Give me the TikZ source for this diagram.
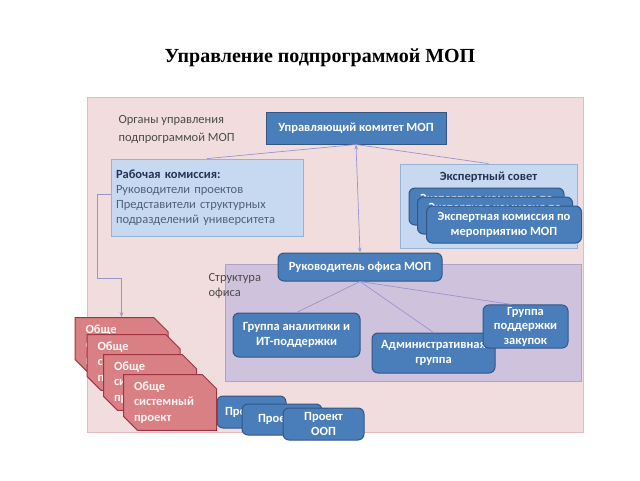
\documentclass[tikz,border=0pt]{standalone}
\usepackage{fontspec}
\setmainfont{Carlito}
\newfontfamily\titlefont{Liberation Serif}
\usetikzlibrary{arrows.meta,shapes.misc}
\definecolor{pinkbg}{RGB}{242,221,222}
\definecolor{pinkline}{RGB}{228,186,188}
\definecolor{paleblue}{RGB}{198,217,241}
\definecolor{palebluedge}{RGB}{149,179,215}
\definecolor{darkblue}{RGB}{74,126,187}
\definecolor{darkblueedge}{RGB}{50,86,134}
\definecolor{lilac}{RGB}{207,194,221}
\definecolor{lilacedge}{RGB}{178,160,200}
\definecolor{rosered}{RGB}{217,128,133}
\definecolor{roseredge}{RGB}{160,52,66}
\definecolor{linkcol}{RGB}{150,150,205}
\definecolor{navytext}{RGB}{35,50,85}
\definecolor{steeltext}{RGB}{80,96,122}
\definecolor{greytext}{RGB}{75,75,75}
\tikzset{
  bluebox/.style={draw=darkblueedge, fill=darkblue, line width=1pt, text=white,
    font=\fontsize{12.5}{15}\selectfont\bfseries, align=center, inner sep=2pt},
  roundbox/.style={bluebox, rounded corners=6pt},
  lightbox/.style={draw=palebluedge, fill=paleblue, line width=0.8pt},
  redbox/.style={chamfered rectangle, chamfered rectangle corners={north east,south west},
    chamfered rectangle xsep=7pt, chamfered rectangle ysep=7pt, draw=roseredge, fill=rosered,
    line width=1pt, text=white!92!rosered, font=\fontsize{12.5}{15.5}\selectfont\bfseries,
    align=left, text width=72pt, inner sep=0pt, minimum width=93pt, minimum height=51pt},
  projbox/.style={roundbox, align=left, inner sep=0pt},
  plain/.style={font=\fontsize{12.5}{18}\selectfont, align=left, anchor=north west},
  link/.style={draw=linkcol, line width=0.7pt},
  tip/.style={-{Stealth[length=5pt,width=3.5pt]}}
}
\begin{document}
\begin{tikzpicture}[x=1pt,y=-1pt]
\useasboundingbox (0,0) rectangle (640,480);
\node[font=\titlefont\bfseries\fontsize{20}{24}\selectfont] (title) at (320,58) {Управление подпрограммой МОП};
\draw[draw=pinkline, fill=pinkbg, line width=1pt] (87,97) rectangle (583,432);
\node[plain, text=greytext] (organs) at (115,112) {Органы управления\\подпрограммой МОП};
\draw[draw=lilacedge, fill=lilac, line width=0.8pt] (225,264) rectangle (581,381);
\node[plain, text=greytext, font=\fontsize{12.5}{15}\selectfont] (officetext) at (205,270) {Структура\\офиса};

\node[bluebox, minimum width=180pt, minimum height=32pt] (committee) at (356,128) {Управляющий комитет МОП};
\node[lightbox, minimum width=192pt, minimum height=77pt, text width=182pt, inner sep=5pt,
  align=left, text=steeltext, font=\fontsize{12.5}{15}\selectfont] (work) at (207,197.5)
  {\textcolor{navytext}{\bfseries Рабочая комиссия:}\\Руководители проектов\\Представители  структурных\\подразделений университета};
\node[lightbox, minimum width=177pt, minimum height=84pt] (expert) at (488.5,206) {};
\node[text=navytext, font=\fontsize{12.5}{15}\selectfont\bfseries] (experttitle) at (488.5,177) {Экспертный совет};
\foreach \i/\x/\y in {1/486.5/206.5, 2/495/215.5, 3/504/224.5}
  \node[roundbox, minimum width=155pt, minimum height=37pt] (exp\i) at (\x,\y) {Экспертная комиссия по\\мероприятию МОП};

\node[roundbox, minimum width=164pt, minimum height=28pt] (head) at (360,267) {Руководитель  офиса МОП};
\node[roundbox, minimum width=127pt, minimum height=44pt] (analytics) at (296.5,335) {Группа аналитики и\\ИТ-поддержки};
\node[roundbox, minimum width=123pt, minimum height=40pt] (admin) at (433.5,353) {Административная\\группа};
\node[roundbox, minimum width=85pt, minimum height=43pt, font=\fontsize{12.5}{14.5}\selectfont\bfseries] (procure) at (525.5,326.5) {Группа\\поддержки\\закупок};

\node[projbox, minimum width=69pt, minimum height=32pt, text width=53pt] (proj1) at (251.5,412) {\mbox{Проект ООП}};
\node[projbox, minimum width=80pt, minimum height=31pt, text width=48pt] (proj2) at (282,419.5) {\mbox{Проект ООП}};
\node[roundbox, minimum width=81pt, minimum height=32pt, inner sep=0pt] (proj3) at (323.5,424) {Проект\\ООП};

\foreach \i/\x/\y in {1/121.5/345.5, 2/133.5/362.5, 3/150/382.5, 4/170/402.5}
  \node[redbox] (red\i) at (\x,\y) {Обще\\системный\\проект};

\draw[link] (work.north) -- (committee.south);
\draw[link] (expert.north) -- (committee.south);
\draw[link, {Stealth[length=5pt,width=3.5pt]}-{Stealth[length=5pt,width=3.5pt]}] (committee.south) -- (head.north);
\draw[link] (head.south) -- (analytics.north);
\draw[link] (head.south) -- (admin.north);
\draw[link] (head.south) -- ([xshift=-14pt]procure.north);
\coordinate (elbow) at (97,278);
\draw[link, tip] ([yshift=3pt]work.west) -| (elbow) -| (red1.north);
\end{tikzpicture}
\end{document}
